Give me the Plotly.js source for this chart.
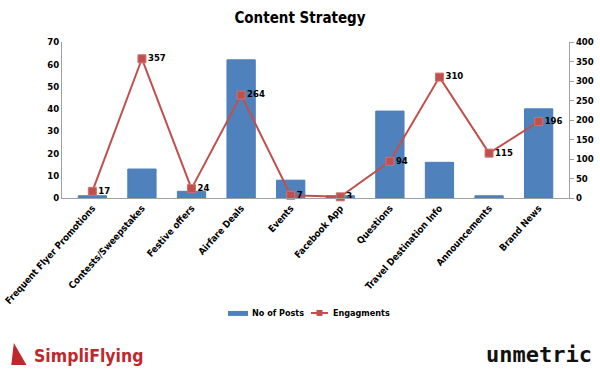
<!DOCTYPE html>
<html><head><meta charset="utf-8">
<script src="https://cdn.plot.ly/plotly-3.0.1.min.js"></script>
<style>body{margin:0;background:#fff}#c{width:600px;height:372px}</style>
</head><body><div id="c"></div>
<script>
const categories = ["Frequent Flyer Promotions","Contests/Sweepstakes","Festive offers","Airfare Deals","Events","Facebook App","Questions","Travel Destination Info","Announcements","Brand News"];
const posts = [1, 13, 3, 62, 8, 1, 39, 16, 1, 40];
const engagements = [17, 357, 24, 264, 7, 3, 94, 310, 115, 196];
const leftTicks = [0,10,20,30,40,50,60,70];
const rightTicks = [0,50,100,150,200,250,300,350,400];
const seriesNames = ['No of Posts', 'Engagments'];

const F = "DejaVu Sans Condensed, Liberation Sans, sans-serif";
const B = s => '<b>' + s + '</b>';
const BLUE = '#4F81BD', RED = '#C0504D';
const data = [
  {type:'bar', x:categories, y:posts, name:seriesNames[0], marker:{color:BLUE, line:{color:'#4A7EBB', width:1}}, yaxis:'y'},
  {type:'scatter', mode:'lines+markers+text', x:categories, y:engagements, name:seriesNames[1], yaxis:'y2',
   line:{color:RED, width:2}, marker:{symbol:'square', size:8, color:RED, line:{color:'#D07070', width:1}},
   text:engagements.map(v => B(String(v))), textposition:'middle right', textfont:{family:F, size:9.5, color:'#000'}, cliponaxis:false}
];
const layout = {
  width:600, height:372, margin:{l:62, r:31, t:42, b:174},
  paper_bgcolor:'#fff', plot_bgcolor:'#fff',
  title:{text:B('Content Strategy'), x:0.5, xanchor:'center', y:0.952, yanchor:'middle', font:{family:F, size:15, color:'#000'}},
  font:{family:F, size:10, color:'#000'},
  bargap:0.43, showlegend:false,
  xaxis:{tickangle:-48, showline:true, linecolor:'#A0A0A0', ticks:'', tickfont:{family:F, size:9.5, color:'#000'}, showgrid:false,
         tickvals:categories, ticktext:categories.map(B)},
  yaxis:{range:[0,70], tickvals:leftTicks, ticktext:leftTicks.map(v=>B(String(v))), showline:true, linecolor:'#A0A0A0', ticks:'', showgrid:false, zeroline:false, tickfont:{family:F, size:9.5, color:'#000'}},
  yaxis2:{range:[0,400], tickvals:rightTicks, ticktext:rightTicks.map(v=>B(String(v))), overlaying:'y', side:'right', showline:true, linecolor:'#A0A0A0', ticks:'outside', ticklen:4, tickcolor:'#A0A0A0', showgrid:false, zeroline:false, tickfont:{family:F, size:9.5, color:'#000'}},
  annotations:[
    {xref:'paper', yref:'paper', x:0.3708, y:-0.737, xanchor:'left', yanchor:'middle', showarrow:false, text:B(seriesNames[0]), font:{family:F, size:9, color:'#000'}},
    {xref:'paper', yref:'paper', x:0.5306, y:-0.737, xanchor:'left', yanchor:'middle', showarrow:false, text:B(seriesNames[1]), font:{family:F, size:9, color:'#000'}},
    {xref:'paper', yref:'paper', x:-0.06, y:-1.01, xanchor:'left', yanchor:'middle', showarrow:false, text:B('SimpliFlying'), font:{family:F, size:17.5, color:'#C0272D'}},
    {xref:'paper', yref:'paper', x:1.05, y:-1.0, xanchor:'right', yanchor:'middle', showarrow:false, text:B('unmetric'), font:{family:'DejaVu Sans Mono, monospace', size:22, color:'#111'}}
  ],
  shapes:[
    {type:'rect', xref:'paper', yref:'paper', x0:0.3274, x1:0.3669, y0:-0.724, y1:-0.756, fillcolor:BLUE, line:{width:0}},
    {type:'line', xref:'paper', yref:'paper', x0:0.4911, x1:0.5247, y0:-0.737, y1:-0.737, line:{color:RED, width:2}},
    {type:'rect', xref:'paper', yref:'paper', x0:0.5020, x1:0.5138, y0:-0.718, y1:-0.756, fillcolor:RED, line:{width:0}},
    {type:'path', xref:'paper', yref:'paper', path:'M -0.10 -1.07 L -0.07 -1.07 L -0.095 -0.93 Z', fillcolor:'#C0272D', line:{width:0}}
  ]
};
Plotly.newPlot('c', data, layout, {staticPlot:true});
</script></body></html>
